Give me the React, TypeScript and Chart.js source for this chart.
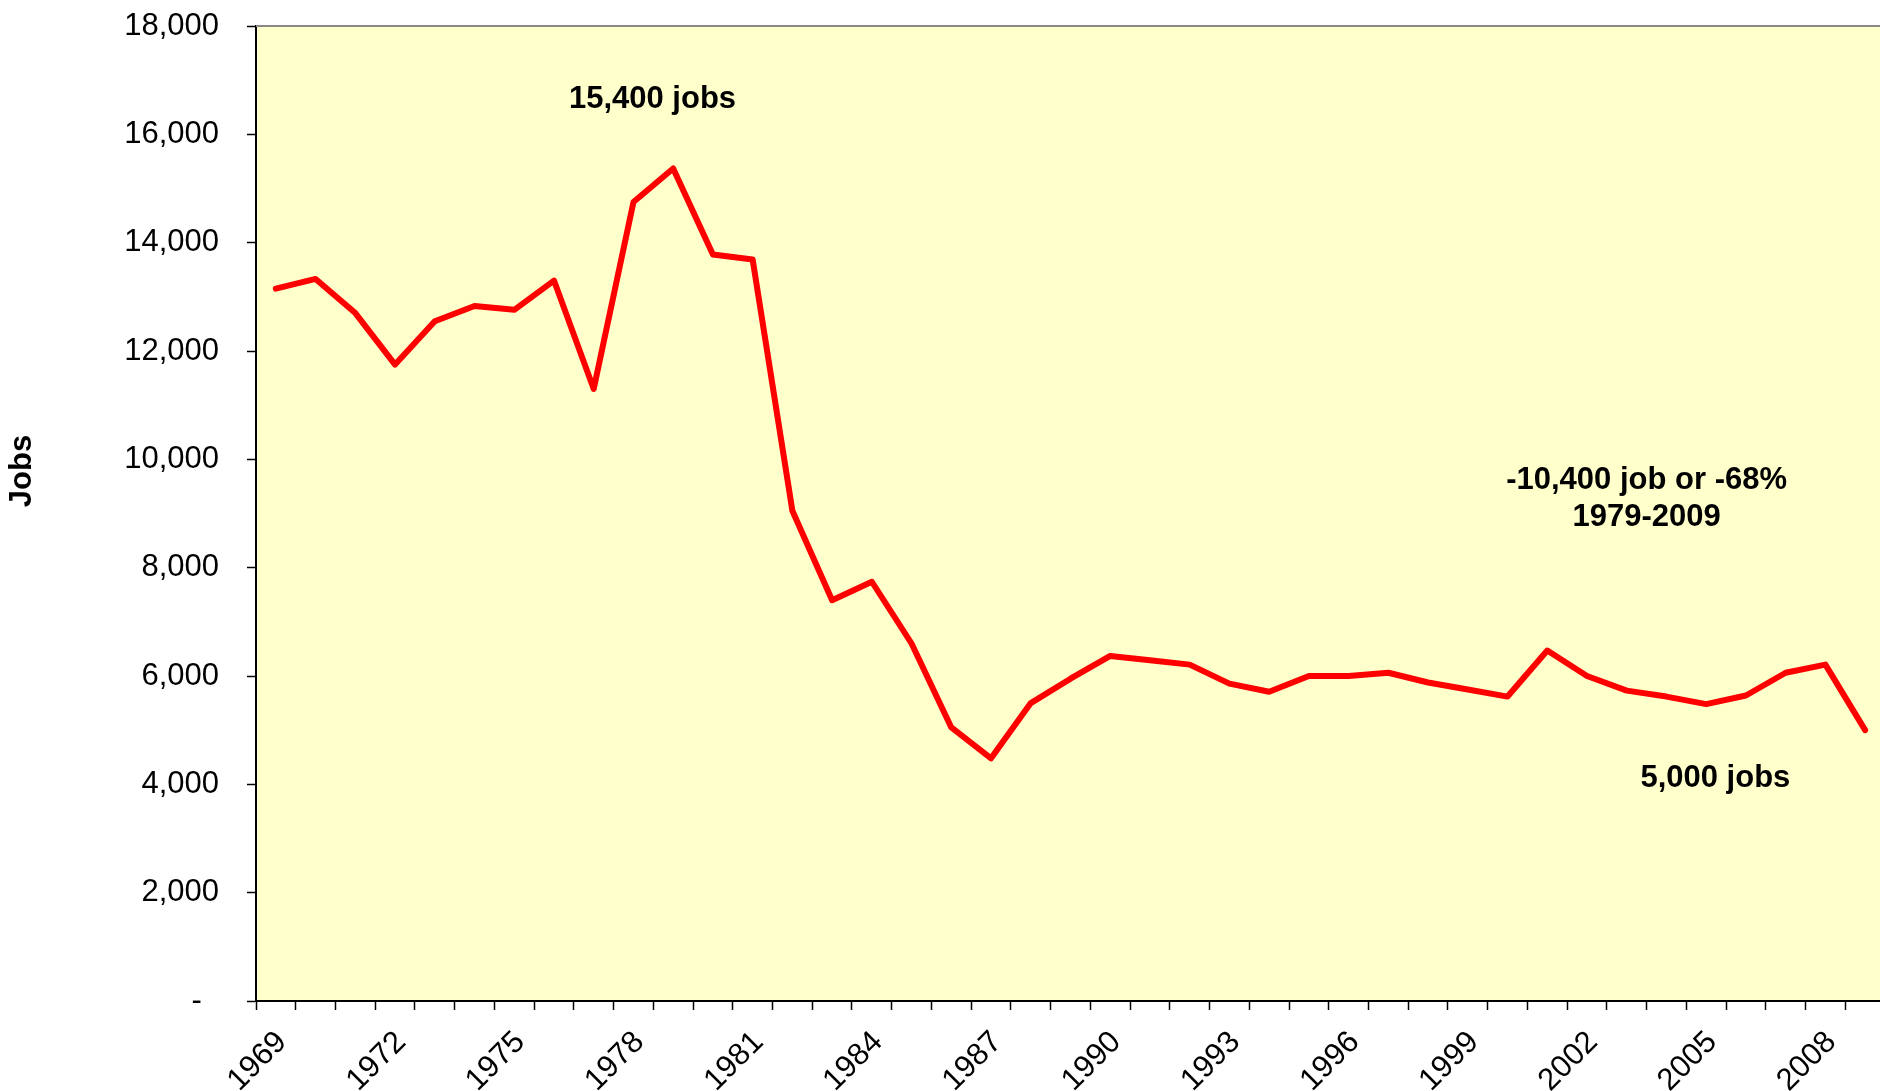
import React, { useEffect, useRef } from 'react';
import { Chart, registerables } from 'chart.js';

Chart.register(...registerables);

const years = [
  '1969', '1970', '1971', '1972', '1973', '1974', '1975', '1976', '1977', '1978',
  '1979', '1980', '1981', '1982', '1983', '1984', '1985', '1986', '1987', '1988',
  '1989', '1990', '1991', '1992', '1993', '1994', '1995', '1996', '1997', '1998',
  '1999', '2000', '2001', '2002', '2003', '2004', '2005', '2006', '2007', '2008',
  '2009',
];

const jobs = [
  13150, 13330, 12700, 11750, 12550, 12830, 12760, 13300, 11300, 14750,
  15370, 13780, 13690, 9050, 7400, 7740, 6600, 5050, 4480, 5500,
  5950, 6370, 6290, 6210, 5860, 5710, 6000, 6000, 6060, 5880,
  5750, 5620, 6470, 6000, 5730, 5620, 5480, 5640, 6060, 6210,
  5000,
];

const shownYearLabels = ['1969', '1972', '1975', '1978', '1981', '1984', '1987', '1990', '1993', '1996', '1999', '2002', '2005', '2008'];

const yAxisTitle = 'Jobs';

const annotationTexts = ['15,400 jobs', '-10,400 job or -68%', '1979-2009', '5,000 jobs'];
// anchor (category index, value) for each annotation text centre
const annotationCatIndex = [9.48, 34.5, 34.5, 36.23];
const annotationValue = [16640, 9615, 8930, 4100];

const FONT = '"Liberation Sans", Arial, sans-serif';

const decorPlugin = {
  id: 'decor',
  beforeDraw(chart: any) {
    const { ctx, chartArea } = chart;
    ctx.save();
    ctx.fillStyle = '#FFFFCC';
    ctx.fillRect(chartArea.left, chartArea.top, chartArea.right - chartArea.left, chartArea.bottom - chartArea.top);
    ctx.restore();
  },
  afterDraw(chart: any) {
    const { ctx, chartArea, scales } = chart;
    ctx.save();
    // top border
    ctx.strokeStyle = '#888888';
    ctx.lineWidth = 2;
    ctx.beginPath();
    ctx.moveTo(chartArea.left, chartArea.top);
    ctx.lineTo(chartArea.right, chartArea.top);
    ctx.stroke();

    // annotations
    ctx.fillStyle = '#000';
    ctx.font = `bold 31px ${FONT}`;
    ctx.textAlign = 'center';
    ctx.textBaseline = 'middle';
    annotationTexts.forEach((t, i) => {
      const x = scales.x.getPixelForValue(annotationCatIndex[i]);
      const y = scales.y.getPixelForValue(annotationValue[i]);
      ctx.fillText(t, x, y);
    });

    // y axis title
    ctx.translate(22, 471);
    ctx.rotate(-Math.PI / 2);
    ctx.fillText(yAxisTitle, 0, 0);
    ctx.restore();
  },
};

export default function App() {
  const ref = useRef<HTMLCanvasElement | null>(null);

  useEffect(() => {
    if (!ref.current) return;
    const chart = new Chart(ref.current, {
      type: 'line',
      data: {
        labels: years,
        datasets: [
          {
            data: jobs,
            borderColor: '#FF0000',
            borderWidth: 6,
            pointRadius: 0,
            tension: 0,
            fill: false,
            borderJoinStyle: 'round',
            borderCapStyle: 'round',
          },
        ],
      },
      options: {
        animation: false,
        responsive: false,
        devicePixelRatio: 1,
        layout: { padding: { top: 26, right: 0, bottom: 0, left: 0 } },
        plugins: {
          legend: { display: false },
          tooltip: { enabled: false },
        },
        scales: {
          x: {
            type: 'category',
            offset: true,
            grid: {
              display: true,
              offset: true,
              drawOnChartArea: false,
              drawTicks: true,
              tickLength: 9,
              tickColor: '#000',
              tickWidth: 1.5,
            },
            border: { display: true, color: '#000', width: 2 },
            ticks: {
              autoSkip: false,
              minRotation: 45,
              maxRotation: 45,
              padding: 14,
              labelOffset: 6,
              color: '#000',
              font: { family: FONT, size: 31 },
              callback: (_v: any, i: number) => (shownYearLabels.includes(years[i]) ? years[i] : ''),
            },
            afterFit: (s: any) => {
              s.height = 90;
              s.paddingLeft = 0;
              s.paddingRight = 0;
            },
          },
          y: {
            min: 0,
            max: 18000,
            grid: {
              display: true,
              drawOnChartArea: false,
              drawTicks: true,
              tickLength: 9,
              tickColor: '#000',
              tickWidth: 1.5,
            },
            border: { display: true, color: '#000', width: 2 },
            ticks: {
              stepSize: 2000,
              padding: 28,
              color: '#000',
              font: { family: FONT, size: 31 },
              callback: (v: any) => (Number(v) === 0 ? '-  ' : Number(v).toLocaleString('en-US')),
            },
            afterFit: (s: any) => {
              s.width = 256;
              s.paddingTop = 0;
              s.paddingBottom = 0;
            },
          },
        },
      },
      plugins: [decorPlugin],
    });
    return () => chart.destroy();
  }, []);

  return (
    <div style={{ position: 'absolute', left: 0, top: 0, width: 1880, height: 1091, overflow: 'hidden', background: '#fff' }}>
      <canvas ref={ref} width={1885} height={1091} style={{ display: 'block' }} />
    </div>
  );
}
